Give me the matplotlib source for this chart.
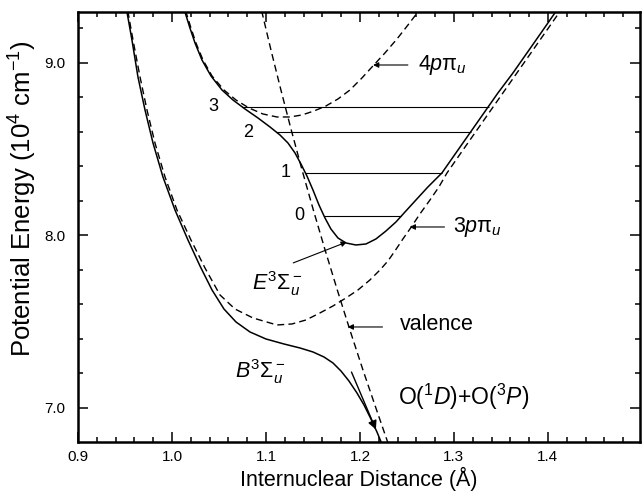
import matplotlib
matplotlib.use("Agg")
import matplotlib.pyplot as plt
from matplotlib.ticker import MultipleLocator, FormatStrFormatter

plt.rcParams['font.family'] = ['Liberation Sans', 'DejaVu Sans']
plt.rcParams['mathtext.fontset'] = 'custom'
plt.rcParams['mathtext.rm'] = 'Liberation Sans'
plt.rcParams['mathtext.it'] = 'Liberation Sans:italic'
plt.rcParams['mathtext.bf'] = 'Liberation Sans:bold'
plt.rcParams['mathtext.sf'] = 'Liberation Sans'

# B 3Sigma_u^- adiabatic curve (solid)
b_x = [0.9500, 0.9521, 0.9574, 0.9638, 0.9713, 0.9798, 0.9904, 1.0032, 1.0170, 1.0298,
       1.0426, 1.0553, 1.0681, 1.0830, 1.1000, 1.1191, 1.1362, 1.1500, 1.1617, 1.1713,
       1.1798, 1.1883, 1.1968, 1.2043, 1.2117, 1.2181, 1.2234]
b_y = [9.3625, 9.2930, 9.1309, 8.9166, 8.7255, 8.5344, 8.3376, 8.1465, 7.9728, 7.8222,
       7.6833, 7.5732, 7.4980, 7.4401, 7.3995, 7.3706, 7.3474, 7.3243, 7.2953, 7.2606,
       7.2142, 7.1563, 7.0869, 7.0174, 6.9363, 6.8610, 6.7915]

# 3p pi_u Rydberg curve (dashed)
r3_x = [0.9511, 0.9532, 0.9585, 0.9660, 0.9734, 0.9819, 0.9926, 1.0053, 1.0202, 1.0351,
        1.0511, 1.0670, 1.0862, 1.1117, 1.1277, 1.1426, 1.1574, 1.1713, 1.1851, 1.1979,
        1.2106, 1.2213, 1.2298, 1.2372, 1.2457, 1.2532, 1.2638, 1.2745, 1.2840, 1.2926,
        1.3074, 1.3223, 1.3372, 1.3521, 1.3670, 1.3819, 1.3968, 1.4117, 1.4170]
r3_y = [9.3625, 9.2930, 9.1309, 8.9166, 8.7255, 8.5344, 8.3376, 8.1465, 7.9728, 7.8107,
        7.6543, 7.5732, 7.5211, 7.4806, 7.4864, 7.5096, 7.5501, 7.5906, 7.6369, 7.6833,
        7.7412, 7.7991, 7.8512, 7.9091, 7.9786, 8.0365, 8.1233, 8.2044, 8.2797, 8.3607,
        8.4766, 8.5924, 8.7082, 8.8240, 8.9398, 9.0556, 9.1714, 9.2872, 9.3277]

# E 3Sigma_u^- adiabatic curve (solid)
e_x = [1.0096, 1.0138, 1.0191, 1.0245, 1.0319, 1.0415, 1.0532, 1.0649, 1.0777, 1.0915,
       1.1043, 1.1149, 1.1234, 1.1309, 1.1372, 1.1436, 1.1500, 1.1564, 1.1628, 1.1691,
       1.1766, 1.1851, 1.1957, 1.2064, 1.2170, 1.2277, 1.2383, 1.2489, 1.2596, 1.2723,
       1.2872, 1.3021, 1.3170, 1.3319, 1.3468, 1.3628, 1.3777, 1.3926, 1.4074, 1.4128]
e_y = [9.3625, 9.2930, 9.2004, 9.1135, 9.0151, 8.9224, 8.8413, 8.7834, 8.7313, 8.6792,
       8.6271, 8.5808, 8.5344, 8.4766, 8.4129, 8.3434, 8.2623, 8.1755, 8.1002, 8.0365,
       7.9844, 7.9554, 7.9438, 7.9496, 7.9786, 8.0249, 8.0770, 8.1407, 8.2044, 8.2797,
       8.3607, 8.4766, 8.5924, 8.7082, 8.8240, 8.9398, 9.0556, 9.1714, 9.2872, 9.3277]

# 4p pi_u Rydberg curve (dashed)
r4_x = [1.0106, 1.0149, 1.0202, 1.0255, 1.0330, 1.0426, 1.0553, 1.0681, 1.0819, 1.0968,
        1.1117, 1.1255, 1.1383, 1.1511, 1.1638, 1.1766, 1.1894, 1.2021, 1.2138, 1.2266,
        1.2394, 1.2511, 1.2617, 1.2670]
r4_y = [9.3625, 9.2930, 9.2004, 9.1135, 9.0151, 8.9224, 8.8413, 8.7834, 8.7371, 8.7024,
        8.6850, 8.6850, 8.6966, 8.7197, 8.7487, 8.7892, 8.8413, 8.9108, 8.9803, 9.0556,
        9.1367, 9.2177, 9.2930, 9.3335]

# valence curve (dashed)
val_x = [1.0928, 1.0957, 1.1053, 1.1159, 1.1269, 1.1384, 1.1504, 1.1629, 1.1759, 1.1893,
         1.2032, 1.2177, 1.2324]
val_y = [9.3625, 9.2930, 9.0730, 8.8413, 8.6097, 8.3781, 8.1465, 7.9149, 7.6833, 7.4517,
         7.2200, 6.9884, 6.7568]

# vibrational levels of the E state
lev_v = ['0', '1', '2', '3']
lev_y = [8.112, 8.361, 8.598, 8.743]
lev_x0 = [1.162, 1.142, 1.111, 1.074]
lev_x1 = [1.244, 1.287, 1.318, 1.337]
lev_lab_x = [1.141, 1.126, 1.086, 1.049]

fig = plt.figure(figsize=(6.42, 4.91), dpi=100)
ax = fig.add_axes([0.1215, 0.0998, 0.8754, 0.8758])

dash = (0, (5, 3))
ax.plot(b_x, b_y, color='k', lw=1.1)
ax.plot(e_x, e_y, color='k', lw=1.1)
ax.plot(r3_x, r3_y, color='k', lw=1.0, linestyle=dash)
ax.plot(r4_x, r4_y, color='k', lw=1.0, linestyle=dash)
ax.plot(val_x, val_y, color='k', lw=1.0, linestyle=dash)

ax.hlines(lev_y, lev_x0, lev_x1, color='k', lw=0.8)
for v, yv, xl in zip(lev_v, lev_y, lev_lab_x):
    ax.text(xl, yv, v, fontsize=13, ha='right', va='center')

arr = dict(arrowstyle='-|>', color='k', lw=0.8, mutation_scale=8, shrinkA=0, shrinkB=0)
ax.annotate('', xy=(1.214, 8.986), xytext=(1.251, 8.986), arrowprops=arr)
ax.annotate('', xy=(1.253, 8.048), xytext=(1.290, 8.048), arrowprops=arr)
ax.annotate('', xy=(1.187, 7.469), xytext=(1.224, 7.469), arrowprops=arr)
ax.annotate('', xy=(1.186, 7.961), xytext=(1.129, 7.840), arrowprops=arr)
ax.annotate('', xy=(1.217, 6.875), xytext=(1.191, 7.208),
            arrowprops=dict(arrowstyle='-|>', color='k', lw=1.0, mutation_scale=13,
                            shrinkA=0, shrinkB=0))

fs = 15.5
ax.text(1.262, 8.986, r'$4p\mathrm{\pi}_u$', fontsize=fs, ha='left', va='center')
ax.text(1.299, 8.048, r'$3p\mathrm{\pi}_u$', fontsize=fs, ha='left', va='center')
ax.text(1.2426, 7.481, 'valence', fontsize=fs, ha='left', va='center')
ax.text(1.085, 7.683, r'$E^3\Sigma_u^-$', fontsize=fs, ha='left', va='baseline')
ax.text(1.067, 7.174, r'$B^3\Sigma_u^-$', fontsize=fs, ha='left', va='baseline')
ax.text(1.240, 7.017, r'O($^1D$)+O($^3P$)', fontsize=16.5, ha='left', va='baseline')

ax.set_xlim(0.9, 1.498)
ax.set_ylim(6.803, 9.293)
ax.xaxis.set_major_locator(MultipleLocator(0.1))
ax.xaxis.set_minor_locator(MultipleLocator(0.02))
ax.yaxis.set_major_locator(MultipleLocator(1.0))
ax.yaxis.set_minor_locator(MultipleLocator(0.2))
ax.xaxis.set_major_formatter(FormatStrFormatter('%.1f'))
ax.yaxis.set_major_formatter(FormatStrFormatter('%.1f'))
ax.tick_params(which='both', direction='in', top=True, right=True, width=1.1)
ax.tick_params(which='major', length=7, labelsize=11)
ax.tick_params(which='minor', length=3.5)
ax.tick_params(axis='y', which='major', pad=9)
ax.tick_params(axis='x', which='major', pad=6)
for s in ax.spines.values():
    s.set_linewidth(1.8)

ax.set_xlabel('Internuclear Distance (Å)', fontsize=15.5)
ax.set_ylabel('Potential Energy (10$^4$ cm$^{-1}$)', fontsize=18.5)
ax.xaxis.set_label_coords(0.5, -0.058)
ax.yaxis.set_label_coords(-0.069, 0.565)

fig.savefig('out.png', dpi=100)
